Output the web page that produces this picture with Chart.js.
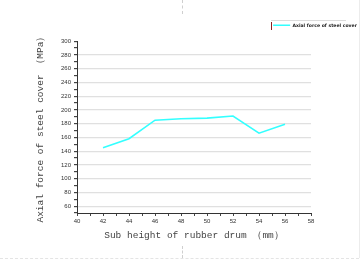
<!DOCTYPE html>
<html>
<head>
<meta charset="utf-8">
<script src="https://cdn.jsdelivr.net/npm/chart.js@4.4.0/dist/chart.umd.min.js"></script>
<style>
  html, body { margin: 0; padding: 0; background: #fff; }
  #wrap { position: relative; width: 364px; height: 265px; overflow: hidden; }
  canvas { position: absolute; left: 0; top: 0; }
  .frame-r { position: absolute; left: 359px; top: 0; width: 0; height: 258px; border-left: 1px solid #ececec; }
  .frame-b { position: absolute; left: 0; top: 258px; width: 359px; height: 0; border-top: 1px dashed #e4e4e4; }
  .cut-t { position: absolute; left: 182px; top: 0; width: 0; height: 14px; border-left: 1px dashed #cfcfcf; }
  .cut-b { position: absolute; left: 182px; top: 246px; width: 0; height: 12px; border-left: 1px dashed #cfcfcf; }
  .leg-top { position: absolute; left: 271px; top: 20px; width: 75px; height: 1px; background: #dcdcdc; }
  .leg-mark { position: absolute; left: 271px; top: 22px; width: 1px; height: 8px; background: #8a2020; }
</style>
</head>
<body>
<div id="wrap">
  <canvas id="chart" width="364" height="265"></canvas>
  <div class="frame-r"></div>
  <div class="frame-b"></div>
  <div class="cut-t"></div>
  <div class="cut-b"></div>
  <div class="leg-top"></div>
  <div class="leg-mark"></div>
</div>
<script>
// sub height of rubber drum (mm)
const subHeights = [42, 44, 46, 48, 50, 52, 54, 56];
// axial force of steel cover (MPa)
const axialForce = [145, 158, 185, 187, 188, 191, 166, 179];

const seriesLabel = "Axial force of steel cover";
const xTitle = "Sub height of rubber drum （mm）";
const yTitle = "Axial force of steel cover （MPa）";

const lineColor = "#33ffff";
const titleFont = { family: "'Liberation Mono', monospace", size: 9.5 };
const tickFont = { family: "'Liberation Sans', Arial, sans-serif", size: 6 };

const points = subHeights.map((x, i) => ({ x: x, y: axialForce[i] }));

// empty spacer axes, only used to place the plot box
const spacer = (size) => ({
  type: "linear",
  display: true,
  border: { display: false },
  grid: { display: false },
  ticks: { display: false },
  afterFit: (s) => {
    if (s.isHorizontal()) s.height = size;
    else s.width = size;
  },
});

new Chart(document.getElementById("chart"), {
  type: "line",
  data: {
    datasets: [
      {
        label: seriesLabel,
        data: points,
        borderColor: lineColor,
        backgroundColor: lineColor,
        borderWidth: 1.6,
        pointRadius: 0,
        tension: 0,
        xAxisID: "x",
        yAxisID: "y",
      },
    ],
  },
  options: {
    responsive: false,
    animation: false,
    layout: { padding: { top: 16, right: 0, left: 0, bottom: 0 } },
    plugins: {
      tooltip: { enabled: false },
      legend: {
        position: "top",
        align: "end",
        labels: {
          usePointStyle: true,
          pointStyle: "line",
          pointStyleWidth: 17,
          padding: 7,
          color: "#222",
          font: { family: "'DejaVu Sans', sans-serif", size: 4.6, weight: "bold" },
        },
      },
    },
    scales: {
      x: {
        type: "linear",
        min: 40,
        max: 58,
        afterFit: (s) => { s.height = 52; },
        border: { display: true, color: "#333", width: 1 },
        grid: { drawOnChartArea: false, drawTicks: true, tickLength: 3, tickColor: "#444" },
        ticks: {
          stepSize: 1,
          autoSkip: false,
          maxRotation: 0,
          padding: 2,
          color: "#333",
          font: tickFont,
          callback: (v) => (v % 2 === 0 ? v : ""),
        },
        title: { display: true, text: xTitle, color: "#444", font: titleFont, padding: { top: 0, bottom: 24 } },
      },
      y: {
        type: "linear",
        min: 50,
        max: 300,
        afterFit: (s) => { s.width = 77; },
        border: { display: true, color: "#333", width: 1 },
        grid: {
          drawTicks: true,
          tickLength: 3,
          tickColor: "#444",
          lineWidth: 1.2,
          color: (c) => (c.tick && c.tick.value % 20 === 0 && c.tick.value < 300 ? "#e0e0e0" : "rgba(0,0,0,0)"),
        },
        ticks: {
          stepSize: 10,
          autoSkip: false,
          padding: 3,
          color: "#333",
          font: tickFont,
          callback: (v) => (v % 20 === 0 ? v : ""),
        },
        title: { display: true, text: yTitle, color: "#444", font: titleFont, padding: { top: 35, bottom: 0 } },
      },
      xTop: Object.assign(spacer(3.5), { position: "top" }),
      yRight: Object.assign(spacer(53), { position: "right" }),
    },
  },
});
</script>
</body>
</html>
